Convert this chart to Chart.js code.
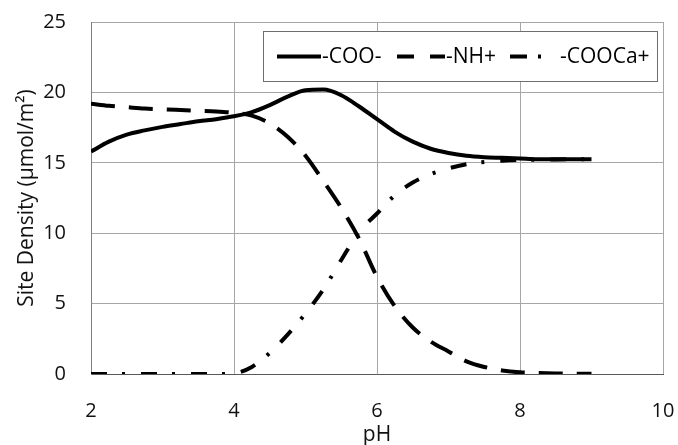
<!DOCTYPE html>
<html>
<head>
<meta charset="utf-8">
<script src="https://cdn.jsdelivr.net/npm/chart.js@4/dist/chart.umd.min.js"></script>
<style>
  html, body { margin: 0; padding: 0; background: #fff; }
  #wrap { width: 678px; height: 445px; }
</style>
</head>
<body>
<div id="wrap"><canvas id="myChart" width="678" height="445"></canvas></div>
<script>
// values, pH step 0.25
const phValues = [2, 2.25, 2.5, 2.75, 3, 3.25, 3.5, 3.75, 4, 4.25, 4.5, 4.75, 5, 5.25, 5.5, 5.75,
  6, 6.25, 6.5, 6.75, 7, 7.25, 7.5, 7.75, 8, 8.25, 8.5, 8.75, 9];
const cooValues = [15.8, 16.5, 17.0, 17.3, 17.55, 17.75, 17.95, 18.1, 18.3, 18.6, 19.1, 19.7, 20.15, 20.2, 19.8, 19.0,
  18.1, 17.2, 16.5, 16.0, 15.7, 15.5, 15.4, 15.35, 15.3, 15.25, 15.25, 15.25, 15.25];
const nhValues = [19.2, 19.05, 18.95, 18.85, 18.8, 18.75, 18.7, 18.65, 18.55, 18.35, 17.8, 16.85, 15.5, 13.7, 11.8, 9.6,
  6.9, 4.8, 3.3, 2.3, 1.6, 0.9, 0.5, 0.25, 0.12, 0.07, 0.04, 0.02, 0.01];
const coocaValues = [0, 0, 0, 0, 0, 0, 0, 0, 0.05, 0.5, 1.5, 2.8, 4.3, 6.0, 8.1, 10.1,
  11.4, 12.7, 13.6, 14.2, 14.6, 14.9, 15.05, 15.15, 15.2, 15.22, 15.24, 15.25, 15.25];
const seriesNames = ['-COO-', '-NH+', '-COOCa+'];
const xTicks = [2, 4, 6, 8, 10];
const yTicks = [0, 5, 10, 15, 20, 25];

const FONT = "'Open Sans', 'DejaVu Sans', sans-serif";

function pts(ys) {
  return phValues.map((x, i) => ({x: x, y: ys[i]}));
}

// legend box drawn inside the plot, like the Excel one
const boxLegend = {
  id: 'boxLegend',
  afterDraw(chart) {
    const c = chart.ctx;
    const box = {x: 263.5, y: 31.5, w: 394, h: 50};
    const midY = 56.5;
    const items = [
      {sx: 277, len: 44, tx: 322, dash: []},
      {sx: 397, len: 48, tx: 446, dash: [17, 16]},
      {sx: 510, len: 45, tx: 560, dash: [17, 11, 3, 30]}
    ];
    c.save();
    c.fillStyle = '#fff';
    c.fillRect(box.x, box.y, box.w, box.h);
    c.strokeStyle = '#6e6e6e';
    c.lineWidth = 1;
    c.strokeRect(box.x, box.y, box.w, box.h);
    c.font = '21px ' + FONT;
    c.textBaseline = 'middle';
    c.fillStyle = '#000';
    items.forEach((it, i) => {
      c.beginPath();
      c.setLineDash(it.dash);
      c.lineWidth = 4;
      c.strokeStyle = '#000';
      c.moveTo(it.sx, midY);
      c.lineTo(it.sx + it.len, midY);
      c.stroke();
      c.setLineDash([]);
      c.fillText(chart.data.datasets[i].label, it.tx, midY + 1);
    });
    c.restore();
  }
};

const ctx = document.getElementById('myChart').getContext('2d');
const myChart = new Chart(ctx, {
  type: 'line',
  data: {
    datasets: [{
      label: seriesNames[0],
      data: pts(cooValues),
      borderColor: '#000',
      borderWidth: 4,
      pointRadius: 0,
      cubicInterpolationMode: 'monotone'
    },
    {
      label: seriesNames[1],
      data: pts(nhValues),
      borderColor: '#000',
      borderWidth: 4,
      borderDash: [24, 14],
      pointRadius: 0,
      cubicInterpolationMode: 'monotone'
    },
    {
      label: seriesNames[2],
      data: pts(coocaValues),
      borderColor: '#000',
      borderWidth: 4,
      borderDash: [16, 15, 3, 16],
      pointRadius: 0,
      cubicInterpolationMode: 'monotone'
    }]
  },
  options: {
    responsive: false,
    animation: false,
    layout: { padding: {top: 22, right: 15, left: 0, bottom: 0} },
    plugins: {
      legend: { display: false },
      tooltip: { enabled: false }
    },
    scales: {
      x: {
        type: 'linear',
        min: 2,
        max: 10,
        // fixed box, and no extra side padding from the tick padding
        afterFit: (s) => { s.height = 71; s.paddingLeft = 0; s.paddingRight = 0; },
        afterBuildTicks: (s) => { s.ticks = xTicks.map(v => ({value: v})); },
        grid: { color: '#a6a6a6', lineWidth: 1, drawTicks: false },
        border: { color: '#595959', width: 1 },
        ticks: { padding: 25, color: '#111', font: {family: FONT, size: 20} },
        title: {
          display: true,
          text: 'pH',
          color: '#111',
          font: {family: FONT, size: 21},
          padding: {top: 0, bottom: -3}
        }
      },
      y: {
        min: 0,
        max: 25,
        afterFit: (s) => { s.width = 91; s.paddingTop = 0; s.paddingBottom = 0; },
        afterBuildTicks: (s) => { s.ticks = yTicks.map(v => ({value: v})); },
        grid: { color: '#a6a6a6', lineWidth: 1, drawTicks: false },
        border: { color: '#7f7f7f', width: 1 },
        ticks: { padding: 25, color: '#111', font: {family: FONT, size: 20} },
        title: {
          display: true,
          text: 'Site Density (μmol/m²)',
          color: '#111',
          font: {family: FONT, size: 21},
          padding: {top: 14, bottom: 0}
        }
      }
    }
  },
  plugins: [boxLegend]
});
</script>
</body>
</html>
